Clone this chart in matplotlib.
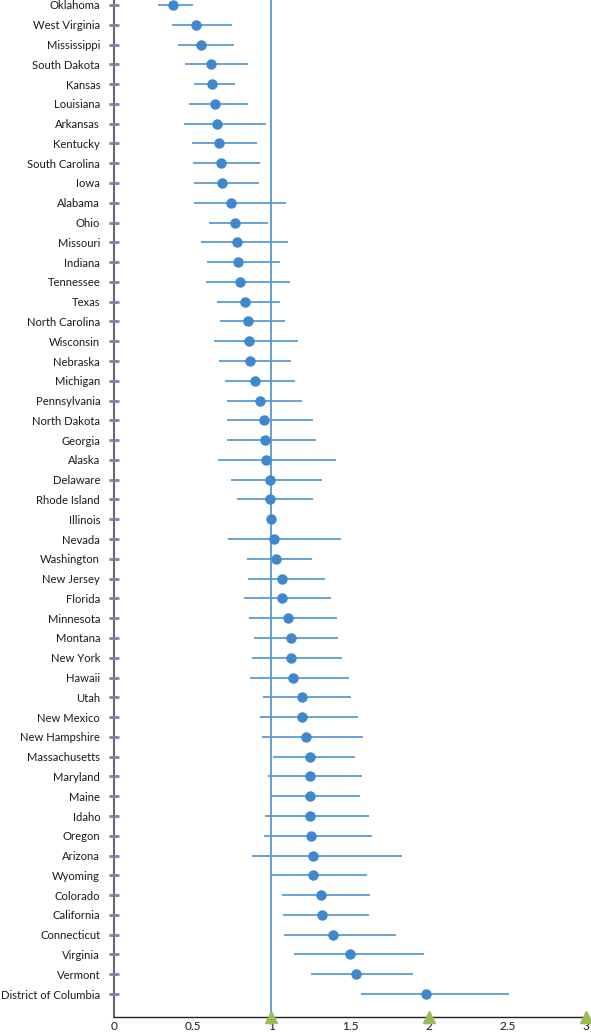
import numpy as np
import matplotlib
matplotlib.use("Agg")
import matplotlib.pyplot as plt

# Estados ordenados de arriba a abajo
states = [
    "Oklahoma", "West Virginia", "Mississippi", "South Dakota", "Kansas",
    "Louisiana", "Arkansas", "Kentucky", "South Carolina", "Iowa",
    "Alabama", "Ohio", "Missouri", "Indiana", "Tennessee", "Texas",
    "North Carolina", "Wisconsin", "Nebraska", "Michigan", "Pennsylvania",
    "North Dakota", "Georgia", "Alaska", "Delaware", "Rhode Island",
    "Illinois", "Nevada", "Washington", "New Jersey", "Florida",
    "Minnesota", "Montana", "New York", "Hawaii", "Utah", "New Mexico",
    "New Hampshire", "Massachusetts", "Maryland", "Maine", "Idaho",
    "Oregon", "Arizona", "Wyoming", "Colorado", "California",
    "Connecticut", "Virginia", "Vermont", "District of Columbia",
]

estimate = [
    0.373, 0.521, 0.555, 0.617, 0.625, 0.640, 0.655, 0.668, 0.680, 0.685,
    0.744, 0.767, 0.782, 0.786, 0.803, 0.829, 0.854, 0.860, 0.865, 0.896,
    0.924, 0.951, 0.960, 0.964, 0.990, 0.992, 1.000, 1.019, 1.030, 1.064,
    1.066, 1.104, 1.123, 1.123, 1.134, 1.193, 1.197, 1.219, 1.242, 1.242,
    1.244, 1.244, 1.248, 1.261, 1.263, 1.314, 1.318, 1.388, 1.496, 1.538,
    1.983,
]

lower = [
    0.280, 0.367, 0.409, 0.453, 0.509, 0.479, 0.447, 0.494, 0.504, 0.509,
    0.509, 0.604, 0.555, 0.589, 0.581, 0.655, 0.674, 0.636, 0.665, 0.704,
    0.718, 0.716, 0.718, 0.663, 0.740, 0.780, 1.000, 0.721, 0.843, 0.848,
    0.826, 0.860, 0.892, 0.875, 0.862, 0.947, 0.930, 0.939, 1.009, 0.981,
    1.000, 0.962, 0.954, 0.875, 0.994, 1.070, 1.076, 1.079, 1.144, 1.250,
    1.570,
]

upper = [
    0.500, 0.748, 0.763, 0.854, 0.769, 0.854, 0.964, 0.907, 0.924, 0.922,
    1.093, 0.981, 1.108, 1.053, 1.115, 1.055, 1.083, 1.170, 1.125, 1.148,
    1.191, 1.267, 1.284, 1.411, 1.324, 1.263, 1.000, 1.441, 1.257, 1.337,
    1.377, 1.416, 1.420, 1.445, 1.492, 1.503, 1.547, 1.583, 1.530, 1.577,
    1.562, 1.619, 1.638, 1.827, 1.608, 1.623, 1.619, 1.791, 1.966, 1.899,
    2.511,
]

x_ticks = [0, 0.5, 1, 1.5, 2, 2.5, 3]
x_tick_labels = ["0", "0.5", "1", "1.5", "2", "2.5", "3"]
marker_x = [1, 2, 3]

plt.rcParams["font.family"] = ["Lato", "DejaVu Sans"]

fig = plt.figure(figsize=(5.91, 10.33), dpi=100)
ax = fig.add_axes([0.193, 0.0155, 0.799, 0.9845])

n = len(states)
y = np.arange(n, 0, -1)  # Oklahoma arriba, DC abajo

# Intervalos de confianza
ax.hlines(y, lower, upper, color="#5b9bd5", linewidth=1.3, zorder=2)
# Estimaciones puntuales
ax.plot(estimate, y, "o", color="#3f88cc", markersize=6.5, zorder=3)

# Línea de referencia en 1
ax.axvline(1, color="#4a8fd0", linewidth=1.2, zorder=1)

# Marcas moradas del eje y
ax.plot([0] * n, y, "_", color="#8a7aa8", markersize=6.5, markeredgewidth=2.0,
        clip_on=False, zorder=4)

ax.set_xlim(0, 3)
ax.set_ylim(-0.16, 51.25)

# Triángulos verdes sobre el eje x
ax.plot(marker_x, [-0.16] * len(marker_x), "^", color="#9bbb59", markersize=8,
        clip_on=False, zorder=5)

ax.set_yticks(y)
ax.set_yticklabels(states, fontsize=8.1, color="#1a1a1a")
ax.tick_params(axis="y", length=0, pad=10)
ax.set_xticks(x_ticks)
ax.set_xticklabels(x_tick_labels, fontsize=8.5, color="#1a1a1a")
ax.tick_params(axis="x", length=0, pad=3)

ax.spines["top"].set_visible(False)
ax.spines["right"].set_visible(False)
ax.spines["left"].set_color("#6b6470")
ax.spines["left"].set_linewidth(1.5)
ax.spines["bottom"].set_color("#222222")
ax.spines["bottom"].set_linewidth(1.0)

fig.savefig("out.png", dpi=100)
